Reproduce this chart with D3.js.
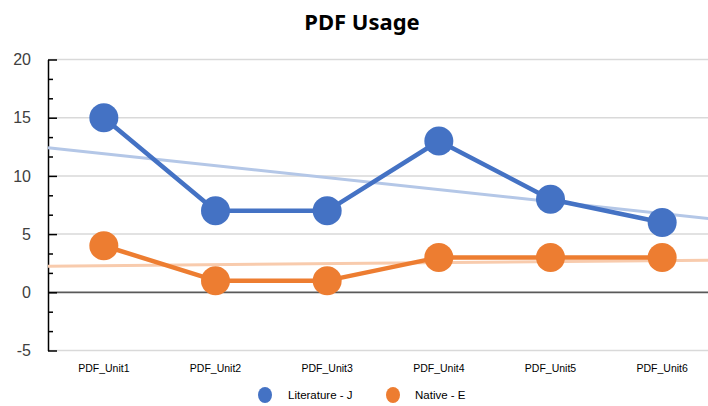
<!DOCTYPE html>
<html>
<head>
<meta charset="utf-8">
<script src="https://cdn.jsdelivr.net/npm/d3@7"></script>
<style>
    html, body { margin: 0; padding: 0; background: #fff; }
    svg { display: block; }
</style>
</head>
<body>
<div id="chart"></div>
<script>
// ── PDF Usage line chart ──

const categories = ['PDF_Unit1', 'PDF_Unit2', 'PDF_Unit3', 'PDF_Unit4', 'PDF_Unit5', 'PDF_Unit6'];
const literatureJ = [15, 7, 7, 13, 8, 6];
const nativeE = [4, 1, 1, 3, 3, 3];
const yTicks = [-5, 0, 5, 10, 15, 20];

const series = [
    { name: 'Literature - J', values: literatureJ, color: '#4472C4', trend: '#b4c7e7' },
    { name: 'Native - E', values: nativeE, color: '#ED7D31', trend: '#f8cbad' },
];

const width = 708, height = 406;
const plot = { left: 48, right: 718, top: 59.5, bottom: 350.5 };

const svg = d3.select('#chart')
    .append('svg')
    .attr('width', width)
    .attr('height', height)
    .style('font-family', '"Noto Sans", "Liberation Sans", sans-serif');

const x = d3.scaleBand()
    .domain(categories)
    .range([plot.left, plot.right])
    .padding(0);
const cx = c => x(c) + x.bandwidth() / 2;

// continuous version of the category axis, for trendlines
const xIdx = d3.scaleLinear()
    .domain([0.5, categories.length + 0.5])
    .range([plot.left, plot.right]);

const y = d3.scaleLinear()
    .domain([-5, 20])
    .range([plot.bottom, plot.top]);

// Title
svg.append('text')
    .attr('x', 362)
    .attr('y', 30)
    .attr('text-anchor', 'middle')
    .attr('font-size', 22)
    .attr('font-weight', 'bold')
    .attr('fill', '#000')
    .text('PDF Usage');

// Gridlines
svg.append('g')
    .selectAll('line')
    .data(yTicks)
    .join('line')
    .attr('x1', plot.left)
    .attr('x2', width)
    .attr('y1', d => y(d))
    .attr('y2', d => y(d))
    .attr('stroke', d => d === 0 ? '#595959' : '#d9d9d9')
    .attr('stroke-width', d => d === 0 ? 1.8 : 1.5);

// Minor ticks (thirds between majors)
const minorTicks = [];
for (let i = 0; i < yTicks.length - 1; i++) {
    minorTicks.push(yTicks[i] + 5 / 3, yTicks[i] + 10 / 3);
}
const minorAxis = svg.append('g')
    .attr('transform', `translate(${plot.left},0)`)
    .call(d3.axisLeft(y).tickValues(minorTicks).tickSize(5).tickFormat(''));
minorAxis.select('.domain').remove();
minorAxis.selectAll('.tick line').attr('x2', 5).attr('stroke', '#000').attr('stroke-width', 1.5);

// Major axis
const yAxis = svg.append('g')
    .attr('transform', `translate(${plot.left},0)`)
    .call(d3.axisLeft(y).tickValues(yTicks).tickSize(9).tickSizeOuter(0)
        .tickFormat(d => String(d)));
yAxis.select('.domain').attr('stroke', '#000').attr('stroke-width', 1.5);
yAxis.selectAll('.tick line').attr('x2', 9).attr('stroke', '#000').attr('stroke-width', 1.5);
yAxis.selectAll('.tick text')
    .attr('x', -17)
    .attr('font-size', 16)
    .attr('font-family', '"Liberation Sans", sans-serif')
    .attr('fill', '#404040');

// X labels
svg.append('g')
    .selectAll('text')
    .data(categories)
    .join('text')
    .attr('x', d => cx(d))
    .attr('y', 372)
    .attr('text-anchor', 'middle')
    .attr('font-size', 10.5)
    .attr('font-family', '"Liberation Sans", sans-serif')
    .attr('fill', '#000')
    .text(d => d);

// Least squares trendline over category index 1..n
function trendline(values) {
    const n = values.length;
    const xs = values.map((_, i) => i + 1);
    const mx = d3.mean(xs), my = d3.mean(values);
    const sxy = d3.sum(values, (v, i) => (xs[i] - mx) * (v - my));
    const sxx = d3.sum(xs, v => (v - mx) * (v - mx));
    const slope = sxy / sxx;
    const f = t => my + slope * (t - mx);
    return [[0.5, f(0.5)], [n + 0.5, f(n + 0.5)]];
}

const trendG = svg.append('g');
series.forEach(s => {
    trendG.append('path')
        .datum(trendline(s.values))
        .attr('fill', 'none')
        .attr('stroke', s.trend)
        .attr('stroke-width', 3)
        .attr('d', d3.line().x(d => xIdx(d[0])).y(d => y(d[1])));
});

// Series lines and markers
const line = d3.line()
    .x((d, i) => cx(categories[i]))
    .y(d => y(d));

series.forEach(s => {
    const g = svg.append('g');
    g.append('path')
        .datum(s.values)
        .attr('fill', 'none')
        .attr('stroke', s.color)
        .attr('stroke-width', 4.5)
        .attr('stroke-linejoin', 'round')
        .attr('d', line);
    g.selectAll('circle')
        .data(s.values)
        .join('circle')
        .attr('cx', (d, i) => cx(categories[i]))
        .attr('cy', d => y(d))
        .attr('r', 14.5)
        .attr('fill', s.color);
});

// Legend
const legendItems = [
    { s: series[0], cx: 265, tx: 288 },
    { s: series[1], cx: 393, tx: 415 },
];
const legend = svg.append('g');
legendItems.forEach(l => {
    legend.append('ellipse')
        .attr('cx', l.cx)
        .attr('cy', 395)
        .attr('rx', 7)
        .attr('ry', 8)
        .attr('fill', l.s.color);
    legend.append('text')
        .attr('x', l.tx)
        .attr('y', 399)
        .attr('font-size', 11.5)
        .attr('font-family', '"Liberation Sans", sans-serif')
        .attr('fill', '#000')
        .text(l.s.name);
});
</script>
</body>
</html>
